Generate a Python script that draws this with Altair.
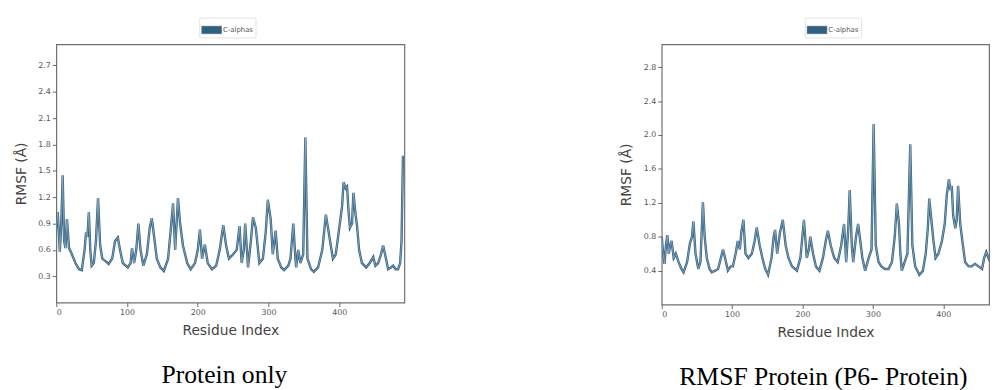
import altair as alt
import pandas as pd

# ---- Data ----
left_residue = [0, 2, 5, 7, 9, 11, 13, 15, 18, 22, 27, 32, 36, 40, 42, 44, 46, 48, 50, 53, 56, 59, 62, 65, 70, 74, 79, 83, 87, 90, 94, 101, 105, 107, 110, 113, 116, 119, 123, 128, 132, 135, 139, 142, 147, 152, 158, 162, 165, 168, 172, 175, 179, 185, 190, 196, 200, 203, 206, 210, 214, 220, 226, 231, 236, 240, 244, 250, 255, 259, 262, 265, 267, 271, 275, 278, 282, 287, 292, 296, 299, 303, 306, 310, 313, 318, 322, 328, 331, 335, 338, 339, 342, 345, 349, 352, 355, 360, 364, 370, 376, 381, 385, 388, 391, 395, 400, 404, 406, 409, 411, 413, 415, 418, 420, 423, 425, 428, 432, 438, 443, 448, 451, 455, 459, 462, 466, 469, 473, 476, 480, 483, 486, 488, 490]
left_rmsf = [0.85, 1.03, 0.58, 0.9, 1.45, 0.7, 0.62, 0.95, 0.62, 0.55, 0.45, 0.38, 0.37, 0.6, 0.8, 0.75, 1.03, 0.6, 0.42, 0.45, 0.7, 1.19, 0.65, 0.5, 0.47, 0.44, 0.5, 0.7, 0.74, 0.6, 0.45, 0.4, 0.45, 0.62, 0.45, 0.6, 0.9, 0.6, 0.42, 0.55, 0.85, 0.96, 0.7, 0.5, 0.4, 0.36, 0.5, 0.85, 1.13, 0.6, 1.19, 0.9, 0.65, 0.45, 0.38, 0.45, 0.6, 0.83, 0.5, 0.66, 0.45, 0.38, 0.42, 0.6, 0.88, 0.65, 0.5, 0.55, 0.6, 0.87, 0.45, 0.6, 0.9, 0.4, 0.7, 0.97, 0.85, 0.45, 0.5, 0.8, 1.17, 0.95, 0.55, 0.82, 0.5, 0.4, 0.37, 0.42, 0.5, 0.9, 0.5, 0.4, 0.6, 0.45, 0.55, 1.88, 0.5, 0.38, 0.35, 0.4, 0.6, 1.0, 0.8, 0.65, 0.5, 0.55, 0.85, 1.1, 1.37, 1.3, 1.32, 1.05, 0.85, 0.9, 1.25, 1.0, 0.88, 0.6, 0.45, 0.4, 0.45, 0.52, 0.42, 0.45, 0.55, 0.65, 0.5, 0.38, 0.4, 0.42, 0.38, 0.38, 0.45, 0.7, 1.67]

right_residue = [0, 2, 4, 6, 8, 10, 12, 14, 17, 20, 24, 28, 31, 36, 40, 43, 45, 48, 52, 55, 58.5, 61, 64, 68, 71, 76, 80, 84, 87, 90, 94, 98, 101, 105, 108, 111, 113, 116, 119, 123, 128, 132, 135, 139, 143, 147, 151, 156, 159, 161, 164, 168, 172, 176, 180, 185, 192, 197, 202, 206, 209, 211, 215, 219, 224, 229, 233, 236, 240, 245, 250, 255, 259, 262, 265, 267, 270, 272, 276, 279, 282, 285, 289, 294, 298, 301, 304, 308, 312, 317, 322, 327, 331, 334, 337, 339, 341, 345, 349, 353, 356, 360, 366, 371, 375, 378, 380, 383, 386, 389, 393, 398, 402, 405, 408, 410, 412, 414, 417, 419, 421, 424, 427, 431, 436, 440, 445, 450, 455, 458, 461, 464, 467, 470, 474, 478, 482, 486, 490]
right_rmsf = [0.8, 0.6, 0.48, 0.7, 0.82, 0.6, 0.7, 0.75, 0.55, 0.6, 0.5, 0.42, 0.38, 0.5, 0.72, 0.8, 0.98, 0.6, 0.42, 0.5, 1.21, 0.8, 0.55, 0.42, 0.38, 0.4, 0.42, 0.55, 0.65, 0.55, 0.4, 0.45, 0.45, 0.6, 0.75, 0.65, 0.85, 1.0, 0.6, 0.55, 0.6, 0.75, 0.91, 0.7, 0.55, 0.42, 0.35, 0.55, 0.8, 0.88, 0.6, 0.85, 1.0, 0.7, 0.55, 0.45, 0.4, 0.55, 1.0, 0.55, 0.65, 0.8, 0.6, 0.45, 0.4, 0.55, 0.75, 0.87, 0.7, 0.55, 0.5, 0.7, 0.95, 0.5, 0.9, 1.35, 0.7, 0.5, 0.8, 0.95, 0.75, 0.55, 0.4, 0.55, 0.65, 2.13, 0.7, 0.5, 0.45, 0.42, 0.42, 0.5, 0.8, 1.19, 0.95, 0.6, 0.4, 0.5, 0.6, 1.89, 0.7, 0.45, 0.35, 0.4, 0.6, 0.9, 1.25, 1.0, 0.75, 0.55, 0.6, 0.75, 0.95, 1.3, 1.48, 1.35, 1.4, 1.05, 0.9, 1.0, 1.4, 0.95, 0.75, 0.5, 0.45, 0.45, 0.48, 0.45, 0.42, 0.55, 0.62, 0.55, 0.5, 0.45, 0.4, 0.42, 0.38, 0.4, 0.45]

x_ticks = [0, 100, 200, 300, 400]
left_y_ticks = [0.3, 0.6, 0.9, 1.2, 1.5, 1.8, 2.1, 2.4, 2.7]
right_y_ticks = [0.4, 0.8, 1.2, 1.6, 2.0, 2.4, 2.8]
series_name = "C-alphas"
left_caption = "Protein only"
right_caption = "RMSF Protein (P6- Protein)"

LINE_COLOR = "#33607f"
HIGHLIGHT = "#a8c3d6"
SWATCH = "M-1,-0.38L1,-0.38L1,0.38L-1,0.38Z"


def panel(residue, rmsf, xmax, ymax, yticks, width, height, caption, dx):
    df = pd.DataFrame({"residue": residue, "rmsf": rmsf, "series": series_name})
    base = alt.Chart(df).encode(
        x=alt.X("residue:Q",
                scale=alt.Scale(domain=[0, xmax], nice=False, zero=True),
                axis=alt.Axis(values=x_ticks, title="Residue Index", grid=False,
                              labelFontSize=8, labelColor="#555", tickColor="#666",
                              tickSize=4, labelPadding=2, titleFontSize=14,
                              titleFontWeight="normal", titleColor="#444",
                              titlePadding=7, domain=False, labelFont="DejaVu Sans",
                              titleFont="DejaVu Sans")),
        y=alt.Y("rmsf:Q",
                scale=alt.Scale(domain=[0, ymax], nice=False, zero=True),
                axis=alt.Axis(values=yticks, format=".1f", title="RMSF (Å)", grid=False,
                              labelFontSize=8, labelColor="#555", tickColor="#666",
                              tickSize=4, labelPadding=2, titleFontSize=14,
                              titleFontWeight="normal", titleColor="#444",
                              titlePadding=10, domain=False, labelFont="DejaVu Sans",
                              titleFont="DejaVu Sans")),
    )
    dark = base.mark_line(strokeWidth=2.4, clip=True).encode(
        color=alt.Color("series:N",
                        scale=alt.Scale(domain=[series_name], range=[LINE_COLOR]),
                        legend=alt.Legend(orient="none", legendX=145, legendY=-27,
                                          title=None, symbolType=SWATCH, symbolSize=400,
                                          symbolFillColor=LINE_COLOR,
                                          symbolStrokeColor=LINE_COLOR,
                                          symbolStrokeWidth=0.5,
                                          labelFontSize=7, labelColor="#555",
                                          labelFont="DejaVu Sans", labelOffset=1,
                                          strokeColor="#e4e4e4", padding=2)),
    )
    light = base.mark_line(strokeWidth=0.7, clip=True, color=HIGHLIGHT, opacity=0.9)
    return alt.layer(dark, light).properties(
        width=width, height=height,
        title=alt.TitleParams(caption, orient="bottom", font="Liberation Serif",
                              fontSize=26, fontWeight="normal", color="black",
                              frame="group", offset=26, dx=dx),
    )


left = panel(left_residue, left_rmsf, 492, 2.94, left_y_ticks, 353, 262, left_caption, -6)
right = panel(right_residue, right_rmsf, 465, 3.07, right_y_ticks, 332, 264, right_caption, -2)

chart = alt.hconcat(left, right, spacing=216).resolve_scale(
    x="independent", y="independent", color="independent"
).resolve_legend(color="independent").configure_view(
    stroke="#707070", strokeWidth=1.2
)

chart.save("out.html", embed_options={"renderer": "svg", "actions": False})
